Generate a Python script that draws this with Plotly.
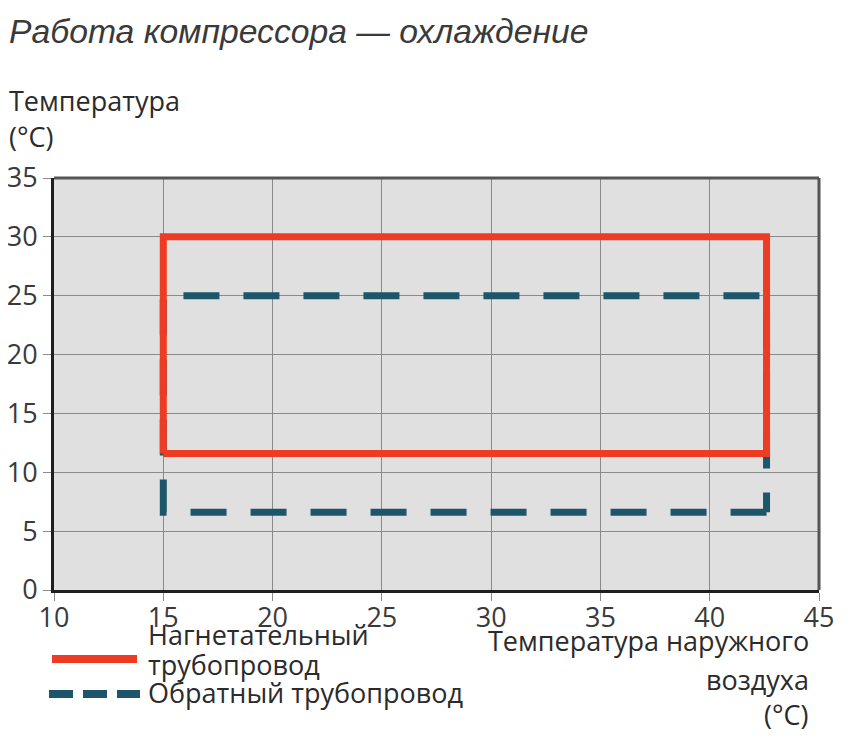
import plotly.graph_objects as go

# ---- data ----
x_ticks = [10, 15, 20, 25, 30, 35, 40, 45]
y_ticks = [0, 5, 10, 15, 20, 25, 30, 35]

discharge_x = [15, 15, 42.6, 42.6, 15]
discharge_y = [11.6, 30, 30, 11.6, 11.6]

# return line path: bottom-right -> bottom-left -> top-left -> top-right -> bottom-right
return_x = [42.6, 15, 15, 42.6, 42.6]
return_y = [6.6, 6.6, 25, 25, 6.6]

series_names = ["Нагнетательный трубопровод", "Обратный трубопровод"]
title_text = "Работа компрессора — охлаждение"
y_title = ["Температура", "(°C)"]
x_title = ["Температура наружного", "воздуха", "(°C)"]

RED = "#ee3b24"
BLUE = "#1d566b"
FONT = "Open Sans, DejaVu Sans, sans-serif"
TXT = "#2b2b2b"

W, H = 852, 737
OFF = 8  # page offset of the figure in the screenshot
L, R, T, B = 54 - OFF, 819 - OFF, 178 - OFF, 590 - OFF


def px(xp):
    return (xp - OFF - L) / (R - L)


def py(yp):
    return (B - (yp - OFF)) / (B - T)


fig = go.Figure()
fig.add_trace(go.Scatter(x=return_x, y=return_y, mode="lines", name=series_names[1],
                         line=dict(color=BLUE, width=7, dash="36px,24px"),
                         showlegend=False, hoverinfo="skip"))
fig.add_trace(go.Scatter(x=discharge_x, y=discharge_y, mode="lines", name=series_names[0],
                         line=dict(color=RED, width=7),
                         showlegend=False, hoverinfo="skip"))


def txt(t, xp, yp, anchor="left", size=27, color=TXT, family=FONT):
    return dict(text=t, x=px(xp), y=py(yp), xref="paper", yref="paper",
                xanchor=anchor, yanchor="middle", showarrow=False,
                font=dict(family=family, size=size, color=color))


ann = []
ann.append(txt("<i>" + title_text + "</i>", 7, 31, size=33.7, color="#3a3a3a",
               family="Liberation Sans, Arial, sans-serif"))
for t, yy in zip(y_title, [101, 136]):
    ann.append(txt(t, 7, yy))
for t, yy in zip(x_title, [640, 679, 714]):
    ann.append(txt(t, 811, yy, anchor="right"))
# legend (manual)
ann.append(txt("Нагнетательный", 146, 634))
ann.append(txt("трубопровод", 146, 664))
ann.append(txt(series_names[1], 146, 692))

shapes = [
    dict(type="line", xref="paper", yref="paper", x0=px(52), x1=px(137), y0=py(659), y1=py(659),
         line=dict(color=RED, width=8)),
    dict(type="line", xref="paper", yref="paper", x0=px(49), x1=px(140), y0=py(694), y1=py(694),
         line=dict(color=BLUE, width=8, dash="24px,10px")),
    # top and right frame (grey)
    dict(type="line", xref="paper", yref="paper", x0=0, x1=1, y0=1, y1=1,
         line=dict(color="#555555", width=3)),
    dict(type="line", xref="paper", yref="paper", x0=1, x1=1, y0=0, y1=1,
         line=dict(color="#555555", width=3)),
]

fig.update_layout(
    width=W, height=H,
    margin=dict(l=L, r=W - R, t=T, b=H - B),
    paper_bgcolor="white", plot_bgcolor="#e0e0e0",
    showlegend=False,
    annotations=ann, shapes=shapes,
    font=dict(family=FONT, color=TXT),
)
axis_common = dict(showgrid=True, gridcolor="#8a8a8a", gridwidth=1, zeroline=False,
                   showline=True, linecolor="#1e1e1e", linewidth=3,
                   ticks="outside", ticklen=8, tickcolor="#8a8a8a", automargin=False,
                   tickfont=dict(family=FONT, size=27, color="#3a3a3a"))
fig.update_xaxes(range=[10, 45], tickvals=x_ticks, ticktext=[str(v) for v in x_ticks],
                 ticklabelstandoff=-6, **axis_common)
fig.update_yaxes(range=[0, 35], tickvals=y_ticks, ticktext=[str(v) for v in y_ticks],
                 **axis_common)

fig.write_html("out.html")
